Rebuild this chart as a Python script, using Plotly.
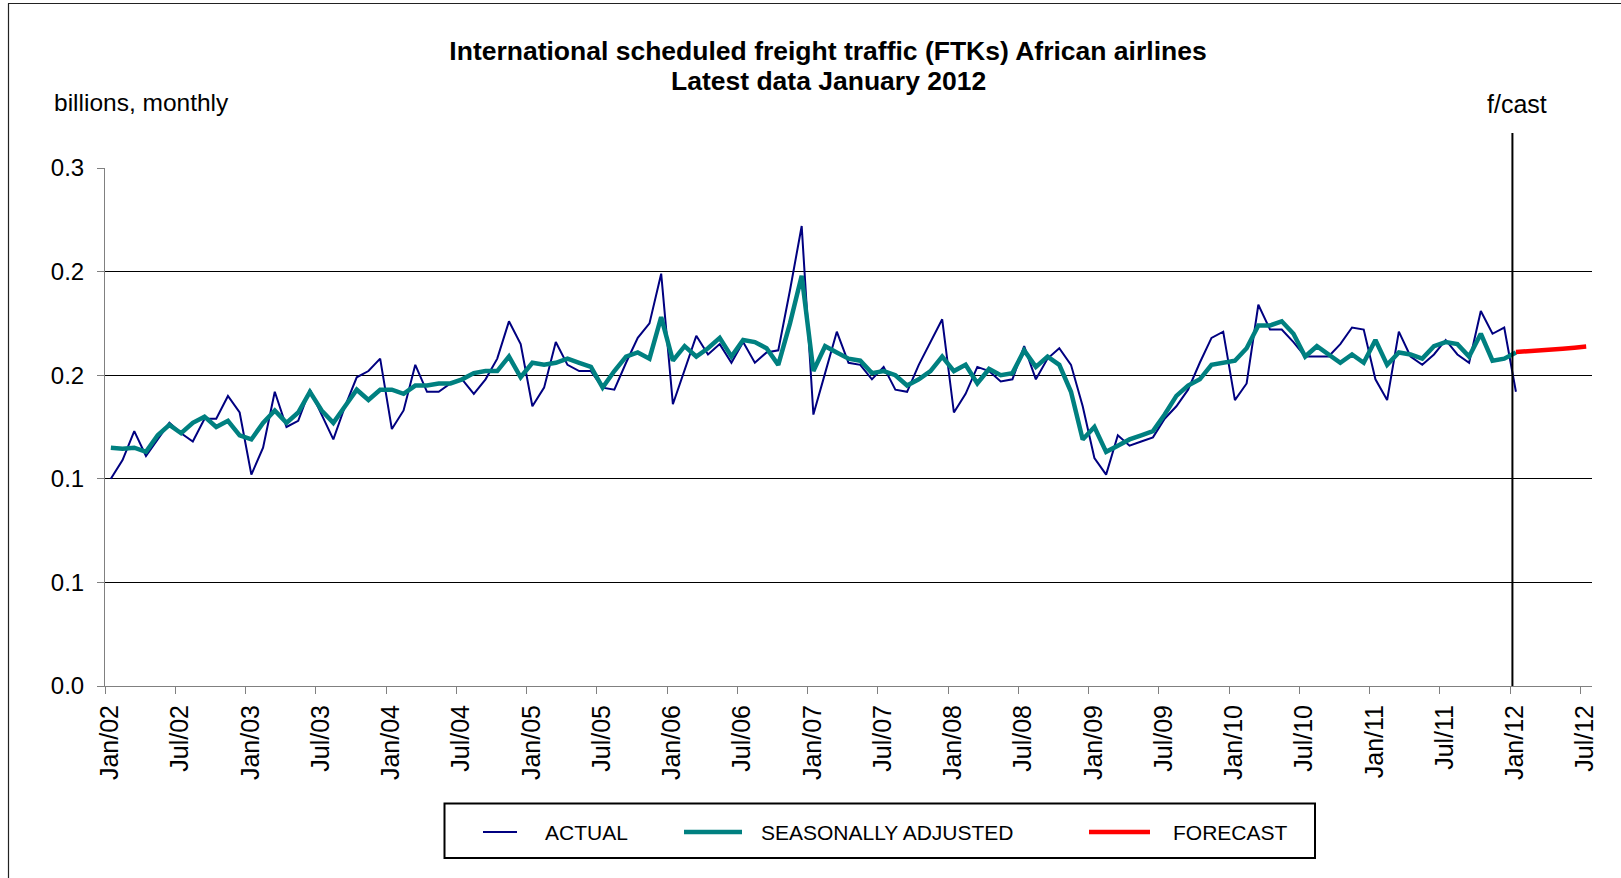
import plotly.graph_objects as go

# ---------------- data ----------------
tick_labels = ["Jan/02", "Jul/02", "Jan/03", "Jul/03", "Jan/04", "Jul/04", "Jan/05", "Jul/05",
               "Jan/06", "Jul/06", "Jan/07", "Jul/07", "Jan/08", "Jul/08", "Jan/09", "Jul/09",
               "Jan/10", "Jul/10", "Jan/11", "Jul/11", "Jan/12", "Jul/12"]
y_tick_vals = [0.0, 0.05, 0.10, 0.15, 0.20, 0.25]
y_tick_text = ["0.0", "0.1", "0.1", "0.2", "0.2", "0.3"]

# monthly, Jan 2002 .. Jan 2012
actual = [
    0.100, 0.109, 0.123, 0.111, 0.119, 0.127, 0.122, 0.118, 0.129, 0.129, 0.140, 0.132,
    0.102, 0.115, 0.142, 0.125, 0.128, 0.143, 0.131, 0.119, 0.135, 0.149, 0.152, 0.158,
    0.124, 0.133, 0.155, 0.142, 0.142, 0.146, 0.148, 0.141, 0.148, 0.158, 0.176, 0.165,
    0.135, 0.144, 0.166, 0.155, 0.152, 0.152, 0.144, 0.143, 0.156, 0.168, 0.175, 0.199,
    0.136, 0.152, 0.169, 0.160, 0.165, 0.156, 0.166, 0.156, 0.161, 0.162, 0.191, 0.222,
    0.131, 0.151, 0.171, 0.156, 0.155, 0.148, 0.154, 0.143, 0.142, 0.155, 0.166, 0.177,
    0.132, 0.141, 0.154, 0.152, 0.147, 0.148, 0.164, 0.148, 0.158, 0.163, 0.155, 0.135,
    0.110, 0.102, 0.121, 0.116, 0.118, 0.120, 0.129, 0.135, 0.143, 0.156, 0.168, 0.171,
    0.138, 0.146, 0.184, 0.172, 0.172, 0.166, 0.159, 0.159, 0.159, 0.165, 0.173, 0.172,
    0.148, 0.138, 0.171, 0.159, 0.155, 0.160, 0.167, 0.160, 0.156, 0.181, 0.170, 0.173,
    0.142,
]
seasonally_adjusted = [
    0.115, 0.1145, 0.115, 0.113, 0.121, 0.126, 0.122, 0.127, 0.130, 0.125, 0.128, 0.121,
    0.119, 0.127, 0.133, 0.127, 0.132, 0.142, 0.133, 0.127, 0.135, 0.143, 0.138, 0.143,
    0.143, 0.141, 0.145, 0.145, 0.146, 0.146, 0.148, 0.151, 0.152, 0.152, 0.159, 0.149,
    0.156, 0.155, 0.156, 0.158, 0.156, 0.154, 0.144, 0.152, 0.159, 0.161, 0.158, 0.178,
    0.157, 0.164, 0.159, 0.163, 0.168, 0.159, 0.167, 0.166, 0.163, 0.155, 0.175, 0.198,
    0.152, 0.164, 0.161, 0.158, 0.157, 0.151, 0.152, 0.150, 0.145, 0.148, 0.152, 0.159,
    0.152, 0.155, 0.146, 0.153, 0.150, 0.151, 0.162, 0.154, 0.159, 0.155, 0.142, 0.119,
    0.125, 0.113, 0.116, 0.119, 0.121, 0.123, 0.131, 0.140, 0.145, 0.148, 0.155, 0.156,
    0.157, 0.163, 0.174, 0.174, 0.176, 0.170, 0.159, 0.164, 0.160, 0.156, 0.160, 0.156,
    0.167, 0.155, 0.161, 0.160, 0.158, 0.164, 0.166, 0.165, 0.159, 0.170, 0.157, 0.158,
    0.161,
]
# Jan 2012 .. Jul 2012
forecast = [0.1612, 0.1615, 0.1619, 0.1624, 0.1628, 0.1633, 0.1638]

# ---------------- layout helpers ----------------
W, H = 1621, 878
L, R, T, B = 105, 29, 168, 192
PW, PH = W - L - R, H - T - B
FONT = "Liberation Sans, Arial, sans-serif"


def px(X):
    return (X - L) / PW


def py(Y):
    return (H - B - Y) / PH


x_actual = [i + 0.5 for i in range(len(actual))]
x_sa = [i + 0.5 for i in range(len(seasonally_adjusted))]
x_fc = [len(actual) - 1 + i + 0.5 for i in range(len(forecast))]
tick_pos = [6 * k for k in range(len(tick_labels))]

NAVY, TEAL, RED = "#000080", "#008080", "#FF0000"

fig = go.Figure()
fig.add_trace(go.Scatter(x=x_actual, y=actual, mode="lines", name="ACTUAL",
                         line=dict(color=NAVY, width=2)))
fig.add_trace(go.Scatter(x=x_sa, y=seasonally_adjusted, mode="lines", name="SEASONALLY ADJUSTED",
                         line=dict(color=TEAL, width=4.5)))
fig.add_trace(go.Scatter(x=x_fc, y=forecast, mode="lines", name="FORECAST",
                         line=dict(color=RED, width=4.5)))

shapes = [
    # forecast divider
    dict(type="line", xref="x", yref="paper", x0=120.2, x1=120.2, y0=0, y1=py(133),
         line=dict(color="black", width=2)),
    # legend box
    dict(type="rect", xref="paper", yref="paper", x0=px(444.5), x1=px(1315),
         y0=py(858), y1=py(803.5), line=dict(color="black", width=2)),
    # legend samples
    dict(type="line", xref="paper", yref="paper", x0=px(483), x1=px(517),
         y0=py(832), y1=py(832), line=dict(color=NAVY, width=2)),
    dict(type="line", xref="paper", yref="paper", x0=px(684), x1=px(742),
         y0=py(832), y1=py(832), line=dict(color=TEAL, width=4.5)),
    dict(type="line", xref="paper", yref="paper", x0=px(1089), x1=px(1150),
         y0=py(832), y1=py(832), line=dict(color=RED, width=4.5)),
    # chart border (top & left visible)
    dict(type="line", xref="paper", yref="paper", x0=px(8), x1=px(1640),
         y0=py(3.5), y1=py(3.5), line=dict(color="#222222", width=1.2)),
    dict(type="line", xref="paper", yref="paper", x0=px(8.5), x1=px(8.5),
         y0=py(3.5), y1=py(900), line=dict(color="#222222", width=1.2)),
]

annotations = [
    dict(text="Latest data January 2012", xref="paper", yref="paper", x=px(828), y=py(81.5),
         xanchor="center", yanchor="middle", showarrow=False,
         font=dict(family=FONT, size=26.5, color="black", weight="bold")),
    dict(text="billions, monthly", xref="paper", yref="paper", x=px(52), y=py(102),
         xanchor="left", yanchor="middle", showarrow=False,
         font=dict(family=FONT, size=24.5, color="black")),
    dict(text="f/cast", xref="paper", yref="paper", x=px(1516.5), y=py(104.5),
         xanchor="center", yanchor="middle", showarrow=False,
         font=dict(family=FONT, size=25, color="black")),
    dict(text="ACTUAL", xref="paper", yref="paper", x=px(543), y=py(832),
         xanchor="left", yanchor="middle", showarrow=False,
         font=dict(family=FONT, size=21, color="black")),
    dict(text="SEASONALLY ADJUSTED", xref="paper", yref="paper", x=px(759), y=py(832),
         xanchor="left", yanchor="middle", showarrow=False,
         font=dict(family=FONT, size=21, color="black")),
    dict(text="FORECAST", xref="paper", yref="paper", x=px(1171), y=py(832),
         xanchor="left", yanchor="middle", showarrow=False,
         font=dict(family=FONT, size=21, color="black")),
]

fig.update_layout(
    width=W, height=H,
    margin=dict(l=L, r=R, t=T, b=B, pad=0),
    paper_bgcolor="white", plot_bgcolor="white",
    showlegend=False,
    font=dict(family=FONT, color="black"),
    title=dict(text="International scheduled freight traffic (FTKs) African airlines",
               xref="container", yref="container", x=828 / W, y=1 - 50.7 / H,
               xanchor="center", yanchor="middle",
               font=dict(family=FONT, size=26.5, color="black", weight="bold")),
    xaxis=dict(range=[0, (W - L - R) / 11.709], tickmode="array", tickvals=tick_pos,
               ticktext=tick_labels, tickangle=-90, ticks="outside", ticklen=7,
               tickcolor="#808080", showline=True, linecolor="#808080", linewidth=1,
               showgrid=False, zeroline=False, ticklabelstandoff=1, ticklabelshift=5,
               tickfont=dict(family=FONT, size=25, color="black")),
    yaxis=dict(range=[0, 0.25], tickmode="array", tickvals=y_tick_vals, ticktext=y_tick_text,
               ticks="outside", ticklen=7, tickcolor="#808080", showline=True,
               linecolor="#808080", linewidth=1, showgrid=True, gridcolor="black",
               gridwidth=1, zeroline=False, ticklabelstandoff=8,
               tickfont=dict(family=FONT, size=24, color="black")),
    shapes=shapes,
    annotations=annotations,
)

fig.write_html("out.html",
               config={"displayModeBar": False},
               post_script="document.body.style.margin='0';document.body.style.overflow='hidden';")
